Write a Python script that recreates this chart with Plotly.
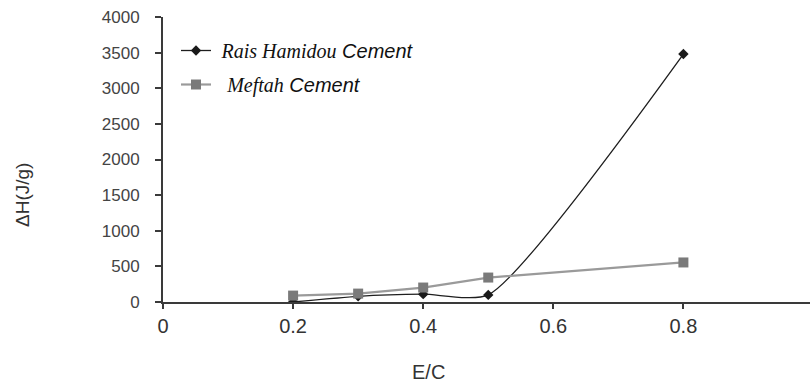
import plotly.graph_objects as go

ec = [0.2, 0.3, 0.4, 0.5, 0.8]
rais = [0, 80, 110, 100, 3480]
meftah = [90, 118, 203, 343, 555]
x_ticks = [0, 0.2, 0.4, 0.6, 0.8, 1]
x_tick_labels = ["0", "0.2", "0.4", "0.6", "0.8", "1"]
y_ticks = [0, 500, 1000, 1500, 2000, 2500, 3000, 3500, 4000]

L, T, B = 163, 17, 83
W, H = 810, 385
pw = W - L

serif = "'Liberation Serif', 'Times New Roman', serif"

fig = go.Figure()
fig.add_trace(go.Scatter(
    x=ec, y=rais, mode="lines+markers", legendgroup="a",
    name=f" <span style=\"font-family:{serif}\">Rais Hamidou</span> Cement",
    line=dict(color="#1e1e1e", width=1.3, shape="spline", smoothing=0.6),
    marker=dict(symbol="diamond", size=8, color="#1a1a1a"),
))
fig.add_trace(go.Scatter(
    x=ec, y=meftah, mode="lines+markers", legendgroup="b",
    name=f"  <span style=\"font-family:{serif}\">Meftah</span> Cement",
    line=dict(color="#9a9a9a", width=2.2),
    marker=dict(symbol="square", size=10, color="#7a7a7a"),
))

fig.update_layout(
    width=W, height=H,
    margin=dict(l=L, r=0, t=T, b=B),
    paper_bgcolor="white", plot_bgcolor="white",
    showlegend=True,
    legend=dict(
        x=(176 - L) / pw, y=1 - (31 - T) / (H - T - B), xanchor="left", yanchor="top",
        bgcolor="rgba(0,0,0,0)",
        font=dict(family="Liberation Sans, Arial, sans-serif", size=20, color="#111", style="italic"),
        tracegroupgap=5, traceorder="grouped",
    ),
    xaxis=dict(
        range=[0, pw / 650.5], tickvals=x_ticks, ticktext=x_tick_labels,
        showgrid=False, zeroline=False, showline=True, linecolor="#3a3a3a", linewidth=2,
        ticks="outside", ticklen=5, tickcolor="#3a3a3a", tickwidth=1.5,
        tickfont=dict(family="Liberation Sans, Arial, sans-serif", size=20, color="#333"),
    ),
    yaxis=dict(
        range=[0, 4000], tickvals=y_ticks,
        showgrid=False, zeroline=False, showline=True, linecolor="#3a3a3a", linewidth=2,
        ticks="outside", ticklen=6, tickcolor="#3a3a3a", tickwidth=1.5,
        ticklabelstandoff=12,
        tickfont=dict(family="Liberation Sans, Arial, sans-serif", size=17, color="#444"),
    ),
    annotations=[
        dict(text="E/C", xref="paper", yref="paper", x=(428 - L) / pw, y=-(372 - (H - B)) / (H - T - B),
             showarrow=False, xanchor="center", yanchor="middle",
             font=dict(family="Liberation Sans, Arial, sans-serif", size=20, color="#333")),
        dict(text="ΔH(J/g)", xref="paper", yref="paper", x=(22 - L) / pw, y=1 - (195 - T) / (H - T - B),
             showarrow=False, xanchor="center", yanchor="middle", textangle=-90,
             font=dict(family="Liberation Sans, Arial, sans-serif", size=19, color="#333")),
    ],
)

fig.write_html("out.html")
